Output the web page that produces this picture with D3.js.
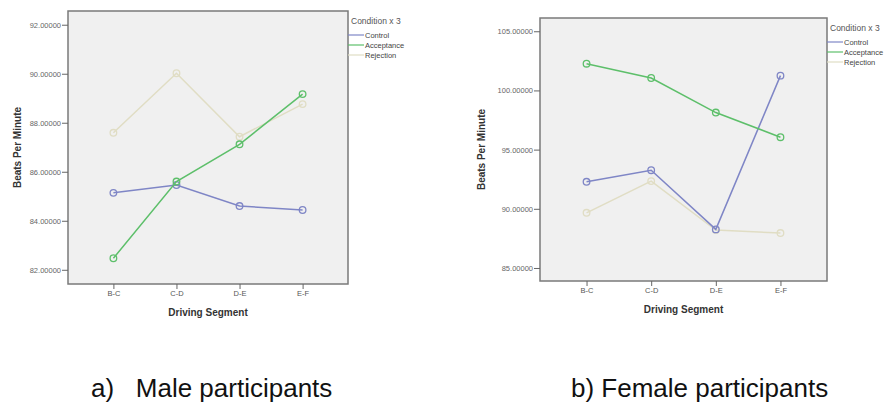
<!DOCTYPE html>
<html>
<head>
<meta charset="utf-8">
<script src="https://d3js.org/d3.v7.min.js"></script>
<style>
  body { margin: 0; background: #fff; }
  svg { font-family: "Liberation Sans", Arial, sans-serif; }
</style>
</head>
<body>
<svg id="chart" width="894" height="406"></svg>
<script>
// driving segments on the x axis
var segments = ["B-C", "C-D", "D-E", "E-F"];
var conditions = ["Control", "Acceptance", "Rejection"];

// male participants, beats per minute
var maleControl    = [85.14, 85.46, 84.60, 84.44];
var maleAcceptance = [82.47, 85.60, 87.12, 89.17];
var maleRejection  = [87.59, 90.02, 87.43, 88.76];
var maleTicks = [82, 84, 86, 88, 90, 92];

// female participants
var femaleControl    = [92.28, 93.26, 88.26, 101.25];
var femaleAcceptance = [102.26, 101.05, 98.13, 96.05];
var femaleRejection  = [89.66, 92.34, 88.20, 87.95];
var femaleTicks = [85, 90, 95, 100, 105];

var colors = { "Control": "#7f86c6", "Acceptance": "#5dbf6a", "Rejection": "#e0ddc4" };

var svg = d3.select("#chart");

function drawPanel(opt) {
  var g = svg.append("g");
  var x = d3.scalePoint().domain(segments).range([opt.left, opt.right]).padding(0.72);
  var y = d3.scaleLinear().domain(opt.domain).range([opt.bottom, opt.top]);

  g.append("rect")
    .attr("x", opt.left).attr("y", opt.top)
    .attr("width", opt.right - opt.left).attr("height", opt.bottom - opt.top)
    .attr("fill", "#f0f0f0").attr("stroke", "#7a7a7a").attr("stroke-width", 1.5);

  var ay = d3.axisLeft(y).tickValues(opt.ticks).tickFormat(d3.format(".5f")).tickSize(6).tickPadding(1);
  var gy = g.append("g").attr("transform", "translate(" + opt.left + ",0)").call(ay);
  gy.select(".domain").remove();
  gy.selectAll("line").attr("stroke", "#666");
  gy.selectAll("text").attr("font-size", 7.5).attr("fill", "#666");

  var ax = d3.axisBottom(x).tickSize(5).tickPadding(2);
  var gx = g.append("g").attr("transform", "translate(0," + opt.bottom + ")").call(ax);
  gx.select(".domain").remove();
  gx.selectAll("line").attr("stroke", "#666");
  gx.selectAll("text").attr("font-size", 7.5).attr("fill", "#555");

  g.append("text")
    .attr("x", (opt.left + opt.right) / 2).attr("y", opt.xTitleY)
    .attr("text-anchor", "middle").attr("font-size", 10).attr("font-weight", "bold").attr("fill", "#333")
    .text("Driving Segment");

  g.append("text")
    .attr("transform", "translate(" + opt.yTitleX + "," + (opt.top + opt.bottom) / 2 + ") rotate(-90)")
    .attr("text-anchor", "middle").attr("font-size", 10).attr("font-weight", "bold").attr("fill", "#333")
    .text("Beats Per Minute");

  var line = d3.line().x(function(d, i) { return x(segments[i]); }).y(function(d) { return y(d); });

  // draw rejection first so the others sit on top
  [2, 0, 1].forEach(function(k) {
    var name = conditions[k];
    var vals = opt.series[k];
    g.append("path").datum(vals).attr("d", line)
      .attr("fill", "none").attr("stroke", colors[name]).attr("stroke-width", 1.5);
    g.selectAll(null).data(vals).enter().append("circle")
      .attr("cx", function(d, i) { return x(segments[i]); })
      .attr("cy", function(d) { return y(d); })
      .attr("r", 3.3)
      .attr("fill", "none").attr("stroke", colors[name]).attr("stroke-width", 1.3);
  });

  // legend
  var lg = g.append("g").attr("transform", "translate(" + opt.right + "," + opt.legendY + ")");
  lg.append("text").attr("x", 3).attr("y", 0).attr("font-size", 8.5).attr("fill", "#555").text("Condition x 3");
  conditions.forEach(function(name, i) {
    var ly = 11 + i * 10;
    lg.append("line").attr("x1", 0).attr("x2", 16).attr("y1", ly).attr("y2", ly)
      .attr("stroke", colors[name]).attr("stroke-width", 1.2);
    lg.append("text").attr("x", 17).attr("y", ly + 2.5).attr("font-size", 7.5).attr("fill", "#444").text(name);
  });

  svg.append("text")
    .attr("x", opt.captionX).attr("y", 397)
    .attr("font-size", 26).attr("fill", "#111")
    .attr("xml:space", "preserve")
    .text(opt.caption);
}

drawPanel({
  left: 68, right: 348, top: 11, bottom: 284,
  domain: [81.42, 92.56], ticks: maleTicks,
  series: [maleControl, maleAcceptance, maleRejection],
  xTitleY: 316, yTitleX: 21, legendY: 24,
  caption: "a)   Male participants", captionX: 91
});

drawPanel({
  left: 540, right: 827, top: 18, bottom: 281,
  domain: [83.9, 106.12], ticks: femaleTicks,
  series: [femaleControl, femaleAcceptance, femaleRejection],
  xTitleY: 313, yTitleX: 485, legendY: 31,
  caption: "b) Female participants", captionX: 571
});
</script>
</body>
</html>
